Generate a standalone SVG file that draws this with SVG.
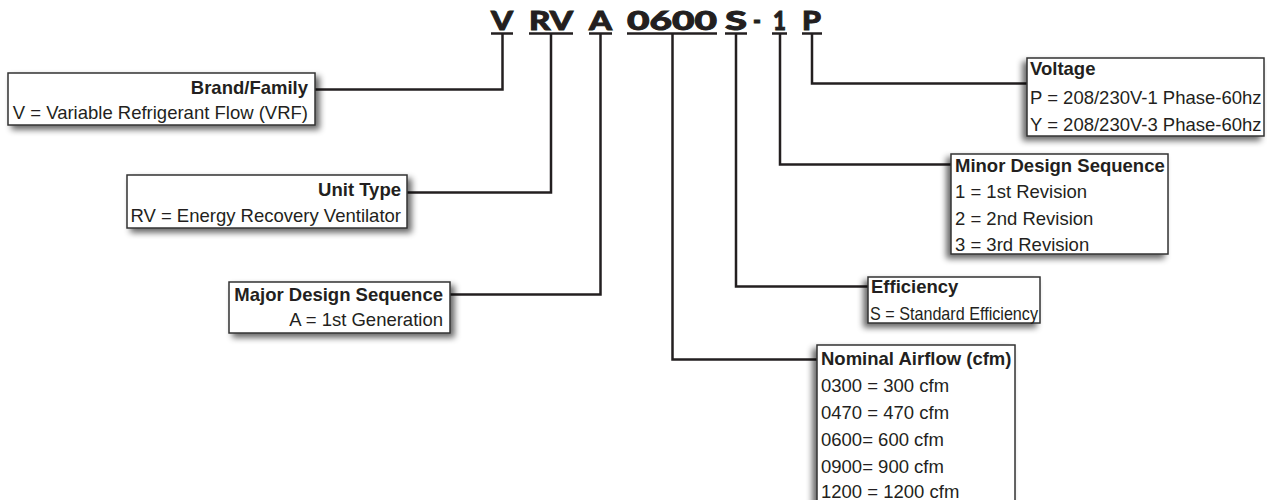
<svg xmlns="http://www.w3.org/2000/svg" width="1267" height="500" viewBox="0 0 1267 500">
<defs>
<filter id="shL" x="-10%" y="-20%" width="125%" height="150%">
<feGaussianBlur in="SourceAlpha" stdDeviation="3"/>
<feOffset dx="4" dy="4" result="b"/>
<feComponentTransfer><feFuncA type="linear" slope="0.6"/></feComponentTransfer>
<feMerge><feMergeNode/><feMergeNode in="SourceGraphic"/></feMerge>
</filter>
<filter id="shR" x="-15%" y="-20%" width="125%" height="150%">
<feGaussianBlur in="SourceAlpha" stdDeviation="3"/>
<feOffset dx="-4" dy="4" result="b"/>
<feComponentTransfer><feFuncA type="linear" slope="0.6"/></feComponentTransfer>
<feMerge><feMergeNode/><feMergeNode in="SourceGraphic"/></feMerge>
</filter>
</defs>
<style>
.box{fill:#fff;stroke:#333;stroke-width:1.5}
.t{font-family:"Liberation Sans",Arial,sans-serif;font-size:18.5px;fill:#231f20}
.b{font-weight:bold}
.r{text-anchor:end}
.h{font-family:Lato,"DejaVu Sans",sans-serif;font-weight:900;font-size:26px;fill:#231f20;stroke:#231f20;stroke-width:0.9}
.ul{stroke:#231f20;stroke-width:2.5}
.c{fill:none;stroke:#231f20;stroke-width:2.5}
</style>
<rect width="1267" height="500" fill="#fff"/>
<g id="header">
<text class="h" x="491" y="30" textLength="22" lengthAdjust="spacingAndGlyphs">V</text>
<text class="h" x="529" y="30" textLength="44" lengthAdjust="spacingAndGlyphs">RV</text>
<text class="h" x="589" y="30" textLength="23" lengthAdjust="spacingAndGlyphs">A</text>
<text class="h" x="627" y="30" textLength="90" lengthAdjust="spacingAndGlyphs">0600</text>
<text class="h" x="725" y="30" textLength="22" lengthAdjust="spacingAndGlyphs">S</text>
<text class="h" x="753" y="30" textLength="8" lengthAdjust="spacingAndGlyphs">-</text>
<text class="h" x="773" y="30" textLength="13" lengthAdjust="spacingAndGlyphs">1</text>
<text class="h" x="802" y="30" textLength="19" lengthAdjust="spacingAndGlyphs">P</text>
<line class="ul" x1="491" y1="33.5" x2="513" y2="33.5"/>
<line class="ul" x1="529" y1="33.5" x2="573" y2="33.5"/>
<line class="ul" x1="589" y1="33.5" x2="612" y2="33.5"/>
<line class="ul" x1="627" y1="33.5" x2="717" y2="33.5"/>
<line class="ul" x1="725" y1="33.5" x2="747" y2="33.5"/>
<line class="ul" x1="772" y1="33.5" x2="787" y2="33.5"/>
<line class="ul" x1="802" y1="33.5" x2="822" y2="33.5"/>
</g>
<g id="connectors">
<path class="c" d="M502.5 33.5 V89.5 H315"/>
<path class="c" d="M551 33.5 V192.5 H407"/>
<path class="c" d="M600.5 33.5 V294.5 H450"/>
<path class="c" d="M672.5 33.5 V359.5 H817"/>
<path class="c" d="M736 33.5 V286.5 H868"/>
<path class="c" d="M780 33.5 V164.5 H951"/>
<path class="c" d="M812 33.5 V83.5 H1027"/>
</g>
<g id="brand">
<rect class="box" x="8" y="73" width="307" height="52" filter="url(#shL)"/>
<text class="t b r" x="308" y="94">Brand/Family</text>
<text class="t r" x="308" y="119">V = Variable Refrigerant Flow (VRF)</text>
</g>
<g id="unit-type">
<rect class="box" x="127" y="175" width="280" height="53" filter="url(#shL)"/>
<text class="t b r" x="401" y="196">Unit Type</text>
<text class="t r" x="401" y="222">RV = Energy Recovery Ventilator</text>
</g>
<g id="major">
<rect class="box" x="229" y="282" width="221" height="51" filter="url(#shL)"/>
<text class="t b r" x="443" y="301">Major Design Sequence</text>
<text class="t r" x="443" y="326">A = 1st Generation</text>
</g>
<g id="voltage">
<rect class="box" x="1027" y="58" width="237" height="78" filter="url(#shR)"/>
<text class="t b" x="1030" y="75">Voltage</text>
<text class="t" x="1030" y="104">P = 208/230V-1 Phase-60hz</text>
<text class="t" x="1030" y="131">Y = 208/230V-3 Phase-60hz</text>
</g>
<g id="minor">
<rect class="box" x="951" y="154" width="217" height="100" filter="url(#shR)"/>
<text class="t b" x="955" y="172">Minor Design Sequence</text>
<text class="t" x="955" y="198">1 = 1st Revision</text>
<text class="t" x="955" y="225">2 = 2nd Revision</text>
<text class="t" x="955" y="251">3 = 3rd Revision</text>
</g>
<g id="efficiency">
<rect class="box" x="868" y="277" width="172" height="46" filter="url(#shR)"/>
<text class="t b" x="871" y="293">Efficiency</text>
<text class="t" x="870" y="320" textLength="168" lengthAdjust="spacingAndGlyphs">S = Standard Efficiency</text>
</g>
<g id="airflow">
<rect class="box" x="817" y="345" width="198" height="170" filter="url(#shR)"/>
<text class="t b" x="821" y="365">Nominal Airflow (cfm)</text>
<text class="t" x="821" y="392">0300 = 300 cfm</text>
<text class="t" x="821" y="419">0470 = 470 cfm</text>
<text class="t" x="821" y="446">0600= 600 cfm</text>
<text class="t" x="821" y="473">0900= 900 cfm</text>
<text class="t" x="821" y="498">1200 = 1200 cfm</text>
</g>
</svg>
